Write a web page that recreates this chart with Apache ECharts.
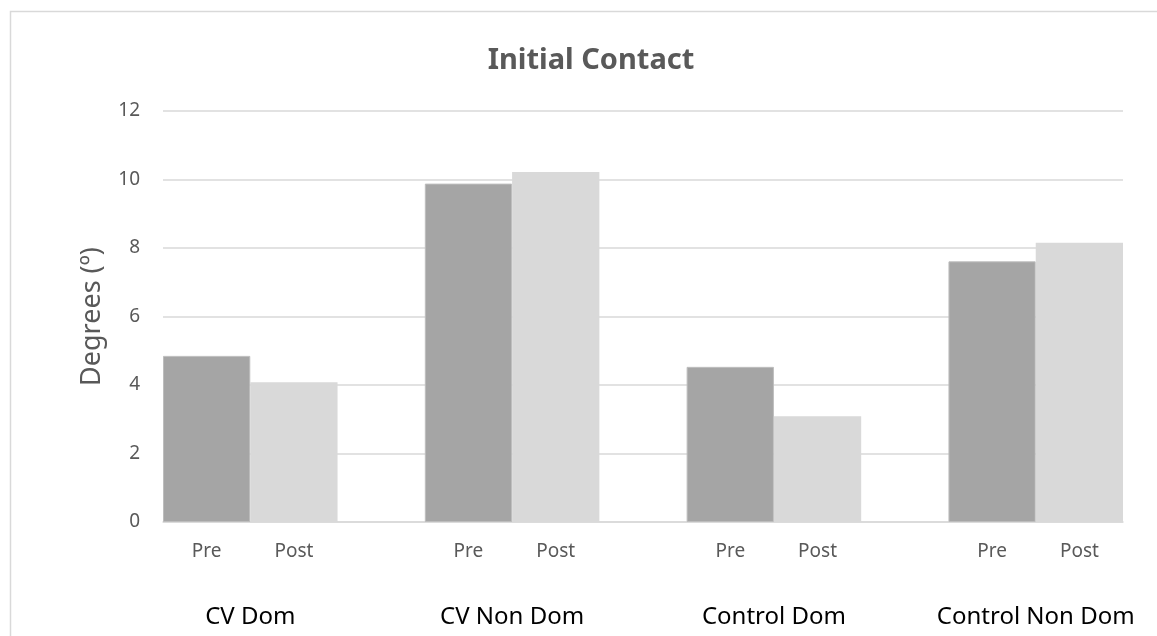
<!DOCTYPE html>
<html>
<head>
<meta charset="utf-8">
<script src="https://cdn.jsdelivr.net/npm/echarts@6/dist/echarts.min.js"></script>
<style>
  html, body { margin: 0; padding: 0; background: #fff; }
  #chart { width: 1157px; height: 636px; }
</style>
</head>
<body>
<div id="chart"></div>
<script>
// Groups, measurement phases and values (degrees)
const groups = ['CV Dom', 'CV Non Dom', 'Control Dom', 'Control Non Dom'];
const phases = ['Pre', 'Post'];
const preValues = [4.85, 9.88, 4.53, 7.61];
const postValues = [4.08, 10.22, 3.09, 8.15];
const yMin = 0, yMax = 12, yStep = 2;

// Each group takes two bar slots plus one empty spacer slot (none after the last group)
const slots = [];
const preData = [];
const postData = [];
groups.forEach((g, i) => {
  slots.push(phases[0], phases[1]);
  preData.push(preValues[i], null);
  postData.push(null, postValues[i]);
  if (i < groups.length - 1) {
    slots.push('');
    preData.push(null);
    postData.push(null);
  }
});
// Group labels sit at the boundary between the Pre and Post slots
const groupPositions = groups.map((g, i) => i * 3 + 1);

const FONT = 'Noto Sans';
const GREY_TEXT = '#595959';
const GRID_LINE = '#d9d9d9';

const chart = echarts.init(document.getElementById('chart'), null, { renderer: 'canvas' });
chart.setOption({
  animation: false,
  backgroundColor: '#ffffff',
  textStyle: { fontFamily: FONT },
  graphic: [{
    type: 'rect',
    shape: { x: 10.5, y: 11.5, width: 1300, height: 800 },
    style: { fill: 'none', stroke: GRID_LINE, lineWidth: 1.5 },
    silent: true
  }],
  title: {
    text: 'Initial Contact',
    left: 586,
    top: 41,
    textAlign: 'center',
    textStyle: { fontFamily: FONT, fontSize: 29, fontWeight: 'bold', color: GREY_TEXT }
  },
  grid: { left: 163, right: 34, top: 111, bottom: 114, containLabel: false },
  xAxis: [{
    type: 'category',
    data: slots,
    axisLine: { show: true, lineStyle: { color: GRID_LINE, width: 1.5 } },
    axisTick: { show: false },
    axisLabel: { interval: 0, margin: 20, fontFamily: FONT, fontSize: 19, color: GREY_TEXT },
    splitLine: { show: false }
  }, {
    type: 'value',
    min: 0,
    max: slots.length,
    position: 'bottom',
    axisLine: { show: false },
    axisTick: { show: false },
    splitLine: { show: false },
    axisLabel: {
      customValues: groupPositions,
      margin: 83,
      fontFamily: FONT,
      fontSize: 24,
      color: '#000000',
      formatter: v => groups[groupPositions.indexOf(v)] || ''
    }
  }],
  yAxis: {
    type: 'value',
    min: yMin,
    max: yMax,
    interval: yStep,
    name: 'Degrees (º)',
    nameLocation: 'middle',
    nameGap: 57,
    nameTextStyle: { fontFamily: FONT, fontSize: 27, color: GREY_TEXT },
    axisLine: { show: false },
    axisTick: { show: false },
    axisLabel: { margin: 23, fontFamily: FONT, fontSize: 19, color: GREY_TEXT },
    splitLine: { show: true, lineStyle: { color: GRID_LINE, width: 1.5 } }
  },
  series: [{
    name: phases[0],
    type: 'bar',
    data: preData,
    barGap: '-100%',
    barCategoryGap: '0%',
    itemStyle: { color: '#a5a5a5', borderColor: '#bdbdbd', borderWidth: 1 }
  }, {
    name: phases[1],
    type: 'bar',
    data: postData,
    barGap: '-100%',
    barCategoryGap: '0%',
    itemStyle: { color: '#d9d9d9' }
  }]
});
</script>
</body>
</html>
